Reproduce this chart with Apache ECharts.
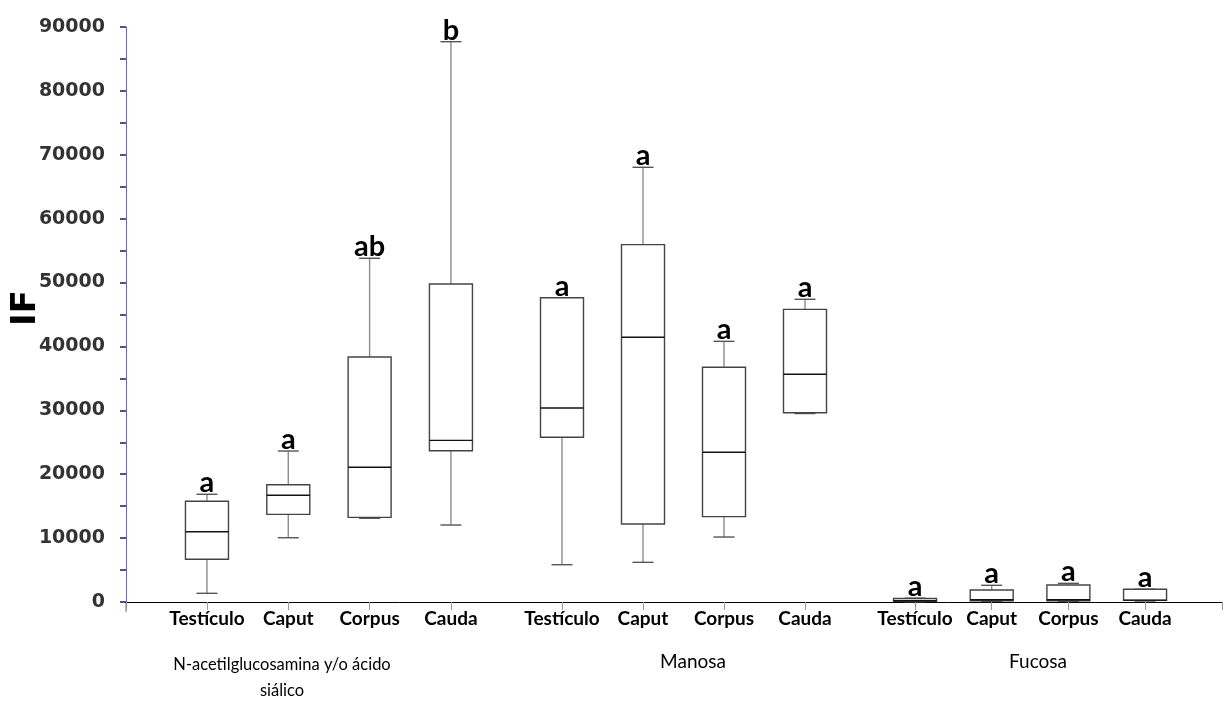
<!DOCTYPE html>
<html>
<head>
<meta charset="utf-8">
<script src="https://cdn.jsdelivr.net/npm/echarts@6/dist/echarts.min.js"></script>
<style>html,body{margin:0;padding:0;background:#fff;}#chart{width:1224px;height:726px;}</style>
</head>
<body>
<div id="chart"></div>
<script>
// ---- data (min, Q1, median, Q3, max) ----
const categories = ['Testículo', 'Caput', 'Corpus', 'Cauda'];
const groupNames = ['N-acetilglucosamina y/o ácido\nsiálico', 'Manosa', 'Fucosa'];
const nacetil = [
  [1360, 6680, 11000, 15760, 16860],
  [10060, 13720, 16700, 18360, 23630],
  [13100, 13250, 21100, 38350, 53800],
  [12050, 23680, 25300, 49770, 87700]
];
const manosa = [
  [5840, 25780, 30360, 47630, 47630],
  [6210, 12210, 41430, 55930, 68040],
  [10170, 13360, 23430, 36740, 40800],
  [29500, 29630, 35640, 45810, 47380]
];
const fucosa = [
  [50, 100, 200, 550, 600],
  [100, 200, 350, 1880, 2610],
  [100, 200, 350, 2660, 2920],
  [150, 250, 300, 1990, 1990]
];
const letters = [
  ['a', 'a', 'ab', 'b'],
  ['a', 'a', 'a', 'a'],
  ['a', 'a', 'a', 'a']
];
const yTicks = { min: 0, max: 90000, interval: 10000 };

const groupsData = [nacetil, manosa, fucosa];
const labelFont = "Lato, 'Open Sans', sans-serif";

const chart = echarts.init(document.getElementById('chart'), null, { renderer: 'canvas' });

const groupGrids = [
  { left: 166.3, width: 325.3 },
  { left: 521.5, width: 324 },
  { left: 876.7, width: 306.7 }
];

const grids = [{ left: 126, top: 27, width: 1096, height: 575 }];
groupGrids.forEach(g => grids.push({ left: g.left, top: 27, width: g.width, height: 575 }));

const xAxes = [{
  type: 'value', gridIndex: 0, min: 0, max: 1, interval: 1,
  axisLine: { show: true, onZero: false, lineStyle: { color: '#000', width: 1 } },
  axisTick: { show: true, length: 8, lineStyle: { color: '#999' } },
  axisLabel: { show: false }, splitLine: { show: false }
}];
const yAxes = [{
  type: 'value', gridIndex: 0, min: yTicks.min, max: yTicks.max, interval: yTicks.interval,
  axisLine: { show: true, lineStyle: { color: '#6a6ab8', width: 1 } },
  axisTick: { show: true, length: 6, lineStyle: { color: '#1a1a70', width: 1.5 } },
  minorTick: { show: true, splitNumber: 2, length: 6, lineStyle: { color: '#1a1a70', width: 1.5 } },
  axisLabel: { fontFamily: 'DejaVu Sans', fontWeight: 'bold', fontSize: 19, color: '#333', margin: 21,
    formatter: v => String(v) },
  splitLine: { show: false }
}];
groupGrids.forEach((g, k) => {
  xAxes.push({
    type: 'category', gridIndex: k + 1, data: categories,
    axisLine: { show: false },
    axisTick: { show: true, alignWithLabel: true, length: 8, lineStyle: { color: '#999' } },
    axisLabel: { fontFamily: labelFont, fontWeight: 'bold', fontSize: 19, color: '#000', margin: 7, interval: 0 },
    splitLine: { show: false }
  });
  yAxes.push({
    type: 'value', gridIndex: k + 1, min: yTicks.min, max: yTicks.max, show: false,
    splitLine: { show: false }
  });
});

function makeRender(groupIdx) {
  return function (params, api) {
    const i = api.value(0);
    const v = [1, 2, 3, 4, 5].map(k => api.value(k));
    const x = api.coord([i, v[0]])[0];
    const y = v.map(val => api.coord([i, val])[1]);
    const bw = 43, cw = 21;
    const wStyle = { stroke: '#8c8c8c', lineWidth: 1.4 };
    const cStyle = { stroke: '#555', lineWidth: 1.4 };
    const txt = letters[groupIdx][params.dataIndex];
    return {
      type: 'group',
      children: [
        { type: 'line', shape: { x1: x, y1: y[4], x2: x, y2: y[3] }, style: wStyle },
        { type: 'line', shape: { x1: x, y1: y[1], x2: x, y2: y[0] }, style: wStyle },
        { type: 'line', shape: { x1: x - cw / 2, y1: y[4], x2: x + cw / 2, y2: y[4] }, style: cStyle },
        { type: 'line', shape: { x1: x - cw / 2, y1: y[0], x2: x + cw / 2, y2: y[0] }, style: cStyle },
        { type: 'rect', shape: { x: x - bw / 2, y: y[3], width: bw, height: Math.max(y[1] - y[3], 0.5) },
          style: { fill: '#fff', stroke: '#444', lineWidth: 1.4 } },
        { type: 'line', shape: { x1: x - bw / 2, y1: y[2], x2: x + bw / 2, y2: y[2] }, style: { stroke: '#111', lineWidth: 1.4 } },
        { type: 'text', style: { text: txt, x: x, y: y[4] + 3, align: 'center', verticalAlign: 'bottom',
          textAlign: 'center', textVerticalAlign: 'bottom',
          fontFamily: labelFont, fontWeight: 'bold', fontSize: 29, fill: '#000' } }
      ]
    };
  };
}

const series = groupsData.map((arr, k) => ({
  type: 'custom',
  xAxisIndex: k + 1, yAxisIndex: k + 1,
  renderItem: makeRender(k),
  data: arr.map((row, i) => [i].concat(row)),
  clip: false,
  silent: true
}));

const option = {
  backgroundColor: '#fff',
  animation: false,
  grid: grids,
  xAxis: xAxes,
  yAxis: yAxes,
  series: series,
  graphic: [
    { type: 'line', shape: { x1: 126, y1: 602, x2: 126, y2: 612 }, style: { stroke: '#6a6ab8', lineWidth: 1 } },
    { type: 'text', x: 26, y: 308, rotation: Math.PI / 2,
      style: { text: 'IF', fontFamily: 'DejaVu Sans', fontWeight: 'bold', fontSize: 34, fill: '#000',
        align: 'center', verticalAlign: 'middle', textAlign: 'center', textVerticalAlign: 'middle' } },
    { type: 'text', x: 282, y: 678,
      style: { text: groupNames[0], fontFamily: labelFont, fontSize: 16.5, lineHeight: 26, fill: '#000',
        align: 'center', verticalAlign: 'middle', textAlign: 'center', textVerticalAlign: 'middle' } },
    { type: 'text', x: 693, y: 662,
      style: { text: groupNames[1], fontFamily: labelFont, fontSize: 19, fill: '#000',
        align: 'center', verticalAlign: 'middle', textAlign: 'center', textVerticalAlign: 'middle' } },
    { type: 'text', x: 1038, y: 662,
      style: { text: groupNames[2], fontFamily: labelFont, fontSize: 19, fill: '#000',
        align: 'center', verticalAlign: 'middle', textAlign: 'center', textVerticalAlign: 'middle' } }
  ]
};
chart.setOption(option);
</script>
</body>
</html>
